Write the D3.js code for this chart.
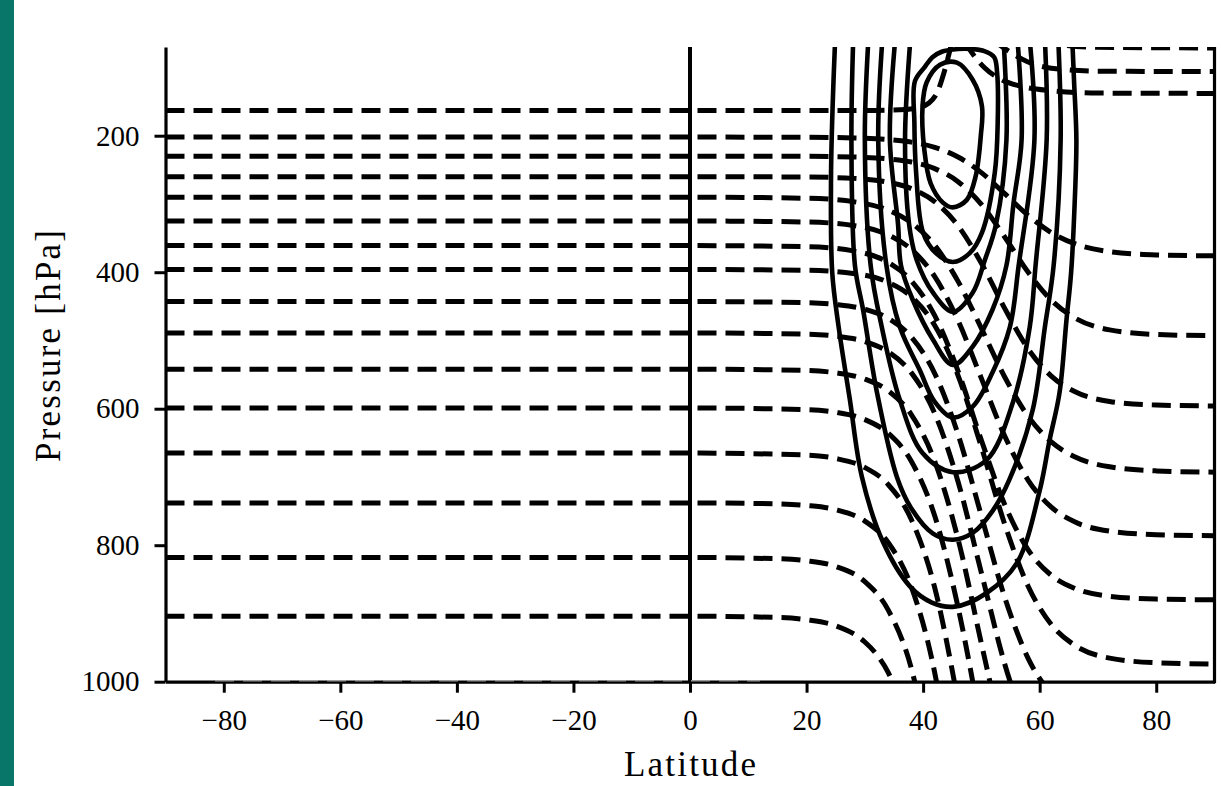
<!DOCTYPE html>
<html>
<head>
<meta charset="utf-8">
<script src="https://d3js.org/d3.v7.min.js"></script>
<style>
body { margin: 0; background: #ffffff; }
#my_dataviz { position: relative; width: 1221px; height: 786px; }
#side_bar { position: absolute; left: 0; top: 0; width: 14px; height: 786px; background: #08776a; }
</style>
</head>
<body>
<div id="my_dataviz"><div id="side_bar"></div></div>
<script>
// axis ticks
var latTicks = [-80, -60, -40, -20, 0, 20, 40, 60, 80];
var presTicks = [200, 400, 600, 800, 1000];

// dashed contours (isentropes), points as [latitude, pressure hPa]
var isen0 = [[-81.5, 1000], [12, 1000]];
var isen1 = [[-90, 904], [0, 904], [15, 905.9], [20, 909.2], [25, 918.1], [30, 941.8], [32, 959.8], [34, 986.3], [38, 1078.7]];
var isen2 = [[-90, 818], [0, 818], [15, 819.8], [20, 822.8], [25, 831.1], [30, 853.3], [34, 894.8], [38, 981.1], [42, 1147]];
var isen3 = [[-90, 738], [0, 738], [15, 739.4], [20, 741.7], [25, 747.9], [30, 764.7], [34, 796.1], [38, 861.3], [42, 987.1], [46, 1197.7]];
var isen4 = [[-90, 665], [0, 665], [20, 667.9], [25, 672.9], [30, 686.1], [34, 711], [38, 762.7], [42, 862.4], [46, 1029.3]];
var isen5 = [[-90, 599], [0, 599], [20, 601.3], [25, 605.3], [30, 615.9], [34, 635.9], [38, 677.3], [42, 757.3], [46, 891], [50, 1070]];
var isen6 = [[-90, 542], [0, 542], [20, 544], [25, 547.4], [30, 556.5], [34, 573.5], [38, 608.9], [42, 677.1], [46, 791.2], [50, 944], [54, 1096.8]];
var isen7 = [[-90, 489], [0, 489], [20, 490.7], [25, 493.7], [30, 501.6], [34, 516.5], [38, 547.5], [42, 607.1], [46, 707], [50, 840.5], [54, 974], [58, 1073.9]];
var isen8 = [[-90, 443], [0, 443], [20, 444.6], [25, 447.2], [30, 454.3], [34, 467.6], [38, 495.2], [42, 548.5], [46, 637.7], [50, 757], [54, 876.3], [58, 965.5], [62, 1018.8]];
var isen9 = [[-90, 396], [0, 396], [20, 397.2], [28, 401.8], [34, 414.7], [38, 436], [42, 478], [46, 551.4], [50, 656.2], [54, 769.2], [58, 859.7], [62, 916.3], [66, 946.6], [72, 965.4], [80, 972.2], [90, 974]];
var isen10 = [[-90, 361], [0, 361], [20, 362.6], [28, 368.7], [34, 385.6], [38, 412.8], [42, 463.7], [46, 544.9], [50, 646.3], [54, 740.4], [58, 806.4], [62, 844.1], [66, 863.2], [72, 874.8], [80, 879], [90, 880]];
var isen11 = [[-90, 325], [0, 325], [20, 326.4], [28, 331.6], [34, 345.3], [38, 366.7], [42, 406.5], [46, 471], [50, 555.5], [54, 640], [58, 704.5], [62, 744.3], [66, 765.7], [72, 779.4], [80, 784.6], [90, 786]];
var isen12 = [[-90, 290], [0, 290], [20, 291.6], [28, 296.6], [34, 309.1], [38, 327.6], [42, 360.8], [46, 413.4], [50, 482.3], [54, 553.5], [58, 610.9], [62, 648.7], [66, 670.3], [72, 685.1], [80, 691.1], [90, 693]];
var isen13 = [[-90, 260], [0, 260], [20, 260.5], [28, 262.5], [34, 268.1], [38, 277.5], [42, 296.7], [46, 332], [50, 386.9], [54, 453], [58, 512.1], [62, 552.3], [66, 574.8], [72, 589.3], [80, 594.6], [90, 596]];
var isen14 = [[-90, 230], [0, 230], [20, 230.2], [28, 231.2], [34, 233.9], [38, 238.5], [42, 248.2], [46, 267.3], [50, 300.7], [54, 348.4], [58, 399.8], [62, 441], [66, 466.8], [72, 484.5], [80, 491.2], [90, 493]];
var isen15 = [[-90, 202], [0, 202], [20, 202.3], [28, 203.2], [34, 205.6], [38, 209.4], [42, 217], [46, 231.1], [50, 254.1], [54, 284.9], [58, 316.7], [62, 342], [66, 358.2], [72, 369.8], [80, 374.6], [90, 376]];
var isen16 = [[-90, 163], [0, 163], [30, 163], [36, 162], [39, 159], [41, 152], [42.5, 135], [43.5, 110], [44.3, 85], [45, 60]];
var isen17 = [[47, 60], [48.5, 80], [50.5, 100], [53.5, 118], [57, 128], [62, 134], [70, 137.5], [90, 138]];
var isen18 = [[52, 60], [54.5, 75], [58, 92], [62, 101], [70, 105.5], [90, 106]];
var isen19 = [[60, 60], [64, 67], [70, 70.5], [90, 71.4]];

// solid contours (jet), points as [latitude, pressure hPa]
var jet1 = [[24.9, 60], [24.5, 150], [24.2, 260], [24.4, 400], [25.5, 480], [27.4, 585], [29.5, 700], [33.1, 795], [37.7, 860], [41.5, 884], [45.4, 890], [50.9, 870], [56.1, 826], [60, 720], [61.7, 646], [63.4, 577], [64.6, 470], [65.4, 400], [66, 300], [66.3, 206], [65.9, 120], [65.6, 60]];
var jet2 = [[28, 60], [27.7, 206], [28.3, 390], [29.7, 455], [32.1, 577], [35.5, 700], [37.9, 745], [41.7, 783], [45.1, 792], [48.5, 782], [51.9, 750], [54.8, 704], [58.8, 602], [60.9, 480], [62.4, 390], [63.6, 206], [63.2, 60]];
var jet3 = [[30.6, 60], [30, 206], [31, 390], [32.9, 480], [36, 587], [39.9, 665], [45.1, 693], [50.9, 675], [55.4, 591], [58.3, 480], [59.3, 390], [61.2, 206], [60.9, 60]];
var jet4 = [[33, 60], [32.3, 206], [33.7, 390], [36, 480], [39.4, 543], [42, 590], [45.1, 613], [48.5, 597], [51.9, 547], [54.9, 480], [56.4, 390], [59.1, 206], [58.3, 60]];
var jet5 = [[35.2, 60], [34.3, 206], [35.7, 330], [36.2, 390], [38.2, 440], [41.7, 499], [45.1, 536], [48.5, 509], [51.9, 455], [54.3, 390], [55.5, 300], [56.9, 206], [56.2, 60]];
var jet6 = [[37.8, 60], [36.9, 206], [37.6, 330], [38.9, 382], [41.7, 430], [45.1, 458], [48.5, 430], [50.6, 382], [52.5, 330], [54.3, 206], [53.8, 60]];
var jet7 = [[43.2, 77], [46, 73], [48.3, 73], [50.5, 76], [52.2, 85], [52.7, 108], [52.8, 180], [52.3, 254], [50.1, 342], [48, 372], [45.1, 385], [42.2, 372], [40, 342], [38.8, 254], [38.5, 180], [38.6, 120], [40.3, 99], [41.6, 85]];
var jet8 = [[45.8, 93], [48.5, 118], [50.1, 157], [49.9, 200], [49, 260], [47.5, 294], [45.1, 305], [43.4, 298], [41.3, 270], [40.2, 220], [39.9, 157], [40.6, 122], [42.9, 96]];

var dashedLines = [isen1, isen2, isen3, isen4, isen5, isen6, isen7, isen8, isen9, isen10,
    isen11, isen12, isen13, isen14, isen15, isen16, isen17, isen18, isen19];
var openJets = [jet1, jet2, jet3, jet4, jet5, jet6];
var closedJets = [jet7, jet8];

// set the dimensions of the graph
var width = 1221,
    height = 786;

var svg = d3.select("#my_dataviz")
    .append("svg")
    .attr("width", width)
    .attr("height", height)
    .style("position", "absolute")
    .style("left", 0)
    .style("top", 0);

var x = d3.scaleLinear()
    .domain([-90, 90])
    .range([165.5, 1214.5]);

var y = d3.scaleLinear()
    .domain([1000, 70])
    .range([681.7, 47]);

// clip everything to the plotting area
svg.append("clipPath")
    .attr("id", "plotArea")
    .append("rect")
    .attr("x", x(-90))
    .attr("y", y(70))
    .attr("width", x(90) - x(-90))
    .attr("height", y(1000) - y(70));

var plot = svg.append("g")
    .attr("clip-path", "url(#plotArea)");

var lineFn = d3.line()
    .x(function(d) { return x(d[0]); })
    .y(function(d) { return y(d[1]); })
    .curve(d3.curveMonotoneX);

var jetFn = d3.line()
    .x(function(d) { return x(d[0]); })
    .y(function(d) { return y(d[1]); })
    .curve(d3.curveCatmullRom.alpha(0.5));

var jetClosedFn = d3.line()
    .x(function(d) { return x(d[0]); })
    .y(function(d) { return y(d[1]); })
    .curve(d3.curveCatmullRomClosed.alpha(0.5));

plot.selectAll(".isen")
    .data(dashedLines)
    .enter()
    .append("path")
    .attr("class", "isen")
    .attr("d", lineFn)
    .attr("fill", "none")
    .attr("stroke", "#000")
    .attr("stroke-width", 5)
    .attr("stroke-dasharray", "19,9");

plot.selectAll(".jetOpen")
    .data(openJets)
    .enter()
    .append("path")
    .attr("class", "jetOpen")
    .attr("d", jetFn)
    .attr("fill", "none")
    .attr("stroke", "#000")
    .attr("stroke-width", 4.6);

plot.selectAll(".jetClosed")
    .data(closedJets)
    .enter()
    .append("path")
    .attr("class", "jetClosed")
    .attr("d", jetClosedFn)
    .attr("fill", "none")
    .attr("stroke", "#000")
    .attr("stroke-width", 4.6);

// equator line
plot.append("line")
    .attr("x1", x(0))
    .attr("x2", x(0))
    .attr("y1", y(70))
    .attr("y2", y(1000))
    .attr("stroke", "#000")
    .attr("stroke-width", 4);

// axes
var fontFam = "'Liberation Serif', 'DejaVu Serif', serif";

var yAxis = svg.append("g")
    .attr("transform", "translate(" + x(-90) + ",0)")
    .call(d3.axisLeft(y).tickValues(presTicks).tickSize(11).tickSizeOuter(0).tickPadding(15)
        .tickFormat(function(d) { return String(d); }));

var xAxis = svg.append("g")
    .attr("transform", "translate(0," + y(1000) + ")")
    .call(d3.axisBottom(x).tickValues(latTicks).tickSize(11).tickSizeOuter(0).tickPadding(17)
        .tickFormat(function(d) { return d < 0 ? "\u2212" + Math.abs(d) : String(d); }));

svg.selectAll(".domain")
    .attr("stroke", "#000")
    .attr("stroke-width", 3.2);
svg.selectAll(".tick line")
    .attr("stroke", "#000")
    .attr("stroke-width", 3);
svg.selectAll(".tick text")
    .attr("fill", "#000")
    .style("font-family", fontFam)
    .style("font-size", "29px");

// right spine
svg.append("line")
    .attr("x1", x(90))
    .attr("x2", x(90))
    .attr("y1", y(70))
    .attr("y2", y(1000) + 1.6)
    .attr("stroke", "#000")
    .attr("stroke-width", 3.2);

// the contour lying on the 1000 hPa edge, drawn faint over the spine
svg.append("path")
    .attr("d", lineFn(isen0))
    .attr("transform", "translate(0,-1)")
    .attr("fill", "none")
    .attr("stroke", "#9a9a9a")
    .attr("stroke-width", 1.4)
    .attr("stroke-dasharray", "19,9");

// axis labels
svg.append("text")
    .attr("x", x(0))
    .attr("y", 776)
    .attr("text-anchor", "middle")
    .attr("textLength", 132)
    .attr("lengthAdjust", "spacing")
    .style("font-family", fontFam)
    .style("font-size", "35px")
    .attr("fill", "#000")
    .text("Latitude");

svg.append("text")
    .attr("transform", "translate(60,346) rotate(-90)")
    .attr("text-anchor", "middle")
    .attr("textLength", 232)
    .attr("lengthAdjust", "spacing")
    .style("font-family", fontFam)
    .style("font-size", "35px")
    .attr("fill", "#000")
    .text("Pressure [hPa]");
</script>
</body>
</html>
